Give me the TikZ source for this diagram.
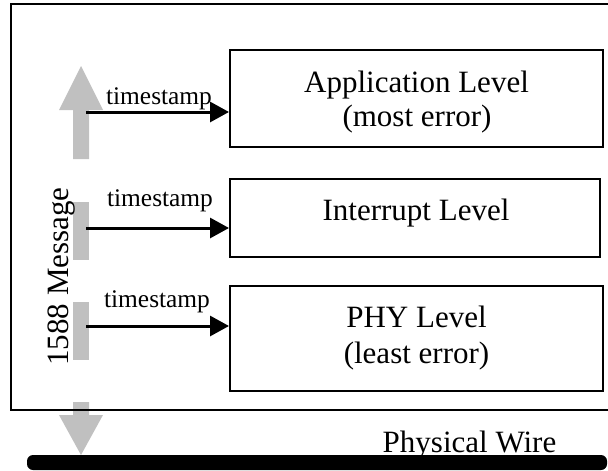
\documentclass[tikz,border=0pt]{standalone}
\usepackage{fontspec}
\setmainfont{Liberation Serif}
\usetikzlibrary{arrows.meta}
\definecolor{msggray}{RGB}{192,192,192}
\tikzset{
  levelbox/.style={draw=black, line width=2pt, minimum width=#1, inner sep=0pt},
  bigtext/.style={font=\fontsize{31}{35}\selectfont, anchor=base, inner sep=0pt},
  tstext/.style={font=\fontsize{25.4}{28}\selectfont, anchor=base, inner sep=0pt},
  tsarrow/.style={line width=3pt, -{Triangle[length=19pt,width=20pt]}},
  grayfill/.style={fill=msggray, draw=none},
}
\begin{document}
\begin{tikzpicture}[x=1pt,y=-1pt]
\useasboundingbox (0,0) rectangle (608,471);
% gray message arrows
\fill[msggray] (73,159) -- (73,110) -- (59,110) -- (81,66) -- (103,110) -- (89,110) -- (89,159) -- cycle;
\fill[msggray] (73,202) rectangle (89,260);
\fill[msggray] (73,302) rectangle (89,360);
\fill[msggray] (73,402) -- (89,402) -- (89,415) -- (103,415) -- (81,455) -- (59,415) -- (73,415) -- cycle;
% outer frame
\draw[line width=2pt] (608,4) -- (11,4) -- (11,410) -- (608,410);
% level boxes
\node[levelbox=373pt, minimum height=97pt] (app) at (416.5,98.5) {};
\node[levelbox=370pt, minimum height=78pt] (int) at (415,218) {};
\node[levelbox=373pt, minimum height=105pt] (phy) at (416.5,338.5) {};
\node[bigtext] (appa) at (416.5,92) {Application Level};
\node[bigtext] (appb) at (417,126) {(most error)};
\node[bigtext] (inta) at (416,220) {Interrupt Level};
\node[bigtext] (phya) at (416.5,327) {PHY Level};
\node[bigtext] (phyb) at (416.5,363) {(least error)};
% timestamps
\coordinate (s1) at (86,112);
\coordinate (s2) at (86,228);
\coordinate (s3) at (86,326);
\draw[tsarrow] (s1) -- (s1 -| app.west);
\draw[tsarrow] (s2) -- (s2 -| int.west);
\draw[tsarrow] (s3) -- (s3 -| phy.west);
\node[tstext] (ts1) at (159,104) {timestamp};
\node[tstext] (ts2) at (160,206) {timestamp};
\node[tstext] (ts3) at (157,307) {timestamp};
% message label
\node[bigtext, rotate=90] (msg) at (68,276.5) {1588 Message};
% physical wire
\fill[black, rounded corners=6pt] (27,455) rectangle (607,470);
\node[bigtext] (wire) at (469.5,452) {Physical Wire};
\end{tikzpicture}
\end{document}
